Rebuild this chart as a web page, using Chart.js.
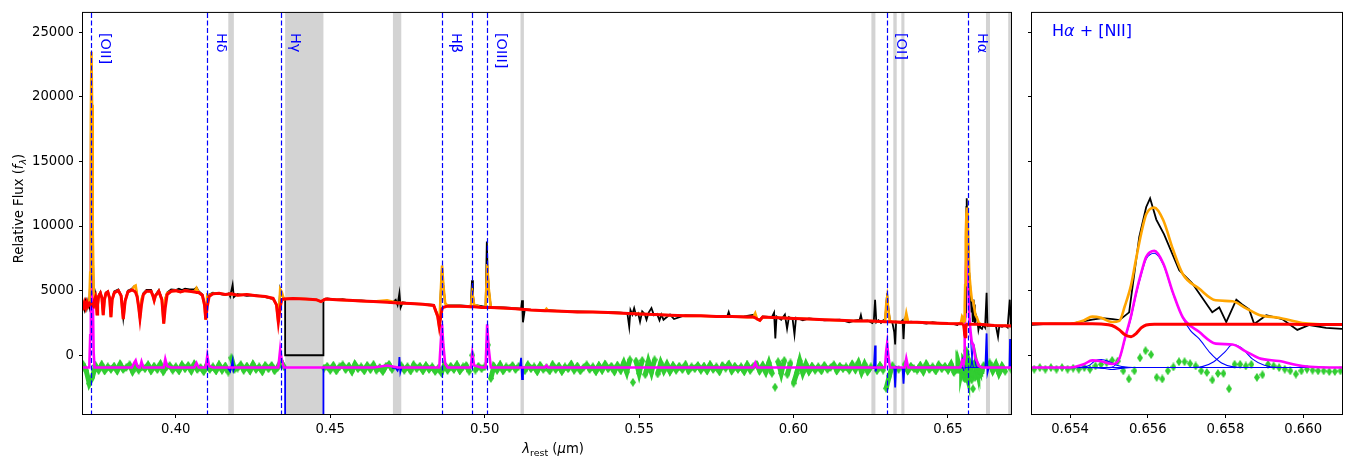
<!DOCTYPE html>
<html>
<head>
<meta charset="utf-8">
<script src="https://cdn.jsdelivr.net/npm/chart.js@4.4.0/dist/chart.umd.min.js"></script>
<style>
  html, body { margin: 0; padding: 0; background: #fff; }
  #wrap { position: relative; width: 1353px; height: 460px; }
  #mainBox { position: absolute; left: 0; top: 0; width: 1020px; height: 460px; }
  #zoomBox { position: absolute; left: 1020px; top: 0; width: 333px; height: 460px; }
</style>
</head>
<body>
<div id="wrap">
  <div id="mainBox"><canvas id="mainChart"></canvas></div>
  <div id="zoomBox"><canvas id="zoomChart"></canvas></div>
</div>
<script>
// ---- spectrum data (rest-frame wavelength in micron, flux in relative f_lambda) ----

// observed spectrum (black)
const obsWave = [
  0.3695, 0.3700, 0.3704, 0.3708, 0.3712, 0.3716, 0.3720, 0.3723, 0.3725, 0.3727,
  0.3729, 0.3731, 0.3734, 0.3737, 0.3740, 0.3743, 0.3745, 0.3747, 0.3750, 0.3756,
  0.3761, 0.3765, 0.3769, 0.3774, 0.3780, 0.3786, 0.3790, 0.3794, 0.3801, 0.3814,
  0.3823, 0.3830, 0.3836, 0.3845, 0.3858, 0.3866, 0.3870, 0.3875, 0.3880, 0.3884,
  0.3889, 0.3895, 0.3905, 0.3920, 0.3926, 0.3930, 0.3934, 0.3945, 0.3955, 0.3961,
  0.3966, 0.3972, 0.3985, 0.4000, 0.4010, 0.4020, 0.4030, 0.4045, 0.4060, 0.4067,
  0.4074, 0.4086, 0.4093, 0.4097, 0.4102, 0.4108, 0.4120, 0.4140, 0.4160, 0.4172,
  0.4176, 0.4184, 0.4188, 0.4200, 0.4230, 0.4260, 0.4290, 0.4315, 0.4326, 0.4332,
  0.4338, 0.4343, 0.4349, 0.4354, 0.4354, 0.4478, 0.4478, 0.4490, 0.4520, 0.4540,
  0.4560, 0.4600, 0.4640, 0.4680, 0.4700, 0.4712, 0.4718, 0.4724, 0.4728, 0.4735,
  0.4760, 0.4800, 0.4835, 0.4848, 0.4853, 0.4858, 0.4862, 0.4866, 0.4872, 0.4880,
  0.4920, 0.4955, 0.4959, 0.4962, 0.4966, 0.4990, 0.5003, 0.5007, 0.5009, 0.5013,
  0.5020, 0.5060, 0.5100, 0.5118, 0.5121, 0.5124, 0.5130, 0.5150, 0.5200, 0.5250,
  0.5300, 0.5350, 0.5400, 0.5440, 0.5462, 0.5468, 0.5472, 0.5478, 0.5484, 0.5490,
  0.5497, 0.5503, 0.5510, 0.5518, 0.5524, 0.5531, 0.5540, 0.5548, 0.5558, 0.5566,
  0.5572, 0.5579, 0.5600, 0.5613, 0.5650, 0.5700, 0.5750, 0.5785, 0.5790, 0.5795,
  0.5840, 0.5876, 0.5882, 0.5891, 0.5900, 0.5930, 0.5937, 0.5941, 0.5945, 0.5960,
  0.5972, 0.5979, 0.5985, 0.5997, 0.6003, 0.6008, 0.6030, 0.6050, 0.6100, 0.6150,
  0.6180, 0.6200, 0.6214, 0.6218, 0.6222, 0.6240, 0.6255, 0.6260, 0.6264, 0.6268,
  0.6275, 0.6283, 0.6290, 0.6297, 0.6300, 0.6303, 0.6307, 0.6312, 0.6320, 0.6326,
  0.6329, 0.6332, 0.6345, 0.6353, 0.6356, 0.6359, 0.6365, 0.6371, 0.6380, 0.6400,
  0.6430, 0.6450, 0.6480, 0.6500, 0.6520, 0.6530, 0.6535, 0.6540, 0.65457, 0.65483,
  0.6551, 0.65527, 0.65552, 0.65578, 0.65596, 0.65606, 0.65622, 0.65642, 0.65681, 0.65714,
  0.65766, 0.65784, 0.65802, 0.65828, 0.65843, 0.65861, 0.65874, 0.65905, 0.65946, 0.65985,
  0.66016, 0.66059, 0.6610, 0.6615, 0.6620, 0.6625, 0.6628, 0.6635, 0.6645, 0.6655,
  0.6662, 0.6666, 0.6675, 0.6685, 0.6693, 0.6700, 0.6704, 0.6715
];
const obsFlux = [
  3600, 4000, 3550, 4150, 3650, 4200, 3800, 6000, 17000, 22500,
  18500, 9000, 4800, 4200, 4650, 3850, 3300, 4000, 4650, 4900,
  4450, 3200, 4350, 4850, 4950, 4450, 3050, 4350, 4950, 5100,
  4650, 2900, 4250, 5000, 5150, 5350, 5300, 4650, 3750, 2950,
  4250, 4800, 5050, 5050, 4650, 4350, 4650, 5050, 4350, 2600,
  4400, 4850, 5100, 5050, 5150, 5050, 5150, 5100, 5100, 5250,
  4950, 4700, 3950, 2900, 4650, 4700, 4850, 4750, 4650, 4800,
  4550, 5450, 4500, 4750, 4600, 4650, 4500, 4350, 3950, 2700,
  5100, 4650, 4400, 4350, 0, 0, 4300, 4400, 4300, 4350,
  4250, 4250, 4150, 4150, 4050, 4300, 3900, 4800, 3700, 4100,
  4000, 3950, 3900, 3100, 2300, 5000, 6900, 5500, 4000, 3850,
  3850, 3800, 5800, 4700, 3900, 3800, 3750, 8800, 7000, 5200,
  3750, 3700, 3650, 3600, 4250, 2550, 3550, 3500, 3500, 3400,
  3400, 3350, 3350, 3300, 3250, 2200, 3500, 3150, 3650, 3100,
  3250, 2600, 3400, 3200, 2750, 3300, 3650, 3100, 3200, 2700,
  3150, 2750, 3150, 2800, 3100, 3050, 3050, 3000, 3350, 2950,
  3000, 3150, 2800, 2750, 3000, 2950, 3300, 1300, 3000, 2750,
  3150, 2050, 2950, 2800, 1600, 2900, 2700, 2850, 2700, 2750,
  2550, 2700, 2750, 3100, 2650, 2700, 2500, 2700, 4300, 2550,
  2700, 2500, 2700, 2800, 3900, 4800, 3600, 2700, 2500, 1800,
  830, 2600, 2500, 2700, 1250, 2650, 3100, 2550, 2600, 2550,
  2450, 2550, 2450, 2450, 2400, 2340, 2450, 2420, 2750, 2870,
  2800, 2720, 3320, 9140, 11480, 12150, 10500, 9360, 6570, 5590,
  3320, 3700, 2570, 4300, 3930, 3550, 2420, 3100, 2800, 1960,
  2340, 2110, 2040, 2350, 2150, 4830, 2250, 2300, 2250, 2300,
  1430, 2250, 2200, 2300, 2150, 4300, 2200, 2250
];

// best-fit stellar continuum (red) and emission-line model (magenta) on the fit grid
const fitWave = [
  0.3695, 0.3700, 0.3704, 0.3708, 0.3712, 0.3716, 0.3720, 0.3723, 0.3725, 0.3727,
  0.3729, 0.3731, 0.3734, 0.3737, 0.3740, 0.3743, 0.3745, 0.3747, 0.3750, 0.3756,
  0.3761, 0.3765, 0.3769, 0.3774, 0.3780, 0.3786, 0.3790, 0.3794, 0.3801, 0.3814,
  0.3823, 0.3830, 0.3836, 0.3845, 0.3858, 0.3866, 0.3870, 0.3875, 0.3880, 0.3884,
  0.3889, 0.3895, 0.3905, 0.3920, 0.3926, 0.3930, 0.3934, 0.3945, 0.3955, 0.3961,
  0.3966, 0.3972, 0.3985, 0.4000, 0.4015, 0.4030, 0.4045, 0.4060, 0.4067, 0.4074,
  0.4086, 0.4093, 0.4097, 0.4102, 0.4108, 0.4120, 0.4140, 0.4160, 0.4180, 0.4200,
  0.4230, 0.4260, 0.4290, 0.4315, 0.4326, 0.4332, 0.4338, 0.4343, 0.4350, 0.4380,
  0.4420, 0.4455, 0.4470, 0.4485, 0.4520, 0.4560, 0.4600, 0.4640, 0.4684, 0.4720,
  0.4760, 0.4800, 0.4835, 0.4848, 0.4853, 0.4858, 0.4862, 0.4866, 0.4872, 0.4880,
  0.4920, 0.4955, 0.4960, 0.4966, 0.4990, 0.5003, 0.5008, 0.5013, 0.5020, 0.5060,
  0.5100, 0.5150, 0.5195, 0.5200, 0.5205, 0.5250, 0.5300, 0.5350, 0.5400, 0.5450,
  0.5500, 0.5550, 0.5600, 0.5650, 0.5700, 0.5750, 0.5800, 0.5850, 0.5870, 0.5876,
  0.5882, 0.5891, 0.5900, 0.5950, 0.6000, 0.6050, 0.6100, 0.6150, 0.6200, 0.6250,
  0.6296, 0.6300, 0.6303, 0.6307, 0.6312, 0.6350, 0.6360, 0.6365, 0.6371, 0.6400,
  0.6450, 0.6500, 0.6530, 0.6540, 0.65435, 0.65457, 0.6548, 0.65508, 0.65527, 0.65541,
  0.65557, 0.6557, 0.65583, 0.65596, 0.65617, 0.6564, 0.65665, 0.6569, 0.65732, 0.65775,
  0.65818, 0.65852, 0.65887, 0.65938, 0.65998, 0.6610, 0.6650, 0.6715
];
const contFlux = [
  3750, 3650, 4050, 3700, 4100, 3800, 4000, 3900, 3950, 4000,
  3900, 3850, 3800, 4300, 4500, 3900, 3200, 3900, 4550, 4800,
  4400, 3100, 4300, 4800, 4900, 4400, 2950, 4300, 4850, 5000,
  4600, 2800, 4200, 4900, 5050, 4950, 4850, 4500, 3700, 2850,
  3900, 4700, 4950, 4950, 4600, 4250, 4600, 4950, 4300, 2450,
  3700, 4700, 4950, 5000, 4900, 5000, 4950, 4900, 4850, 4850,
  4650, 3900, 2750, 3800, 4550, 4750, 4800, 4700, 4750, 4650,
  4700, 4600, 4550, 4400, 3900, 2550, 3700, 4300, 4350, 4400,
  4350, 4300, 4150, 4350, 4300, 4250, 4200, 4150, 4100, 4050,
  4000, 3950, 3850, 3000, 2200, 3000, 3600, 3700, 3750, 3800,
  3800, 3750, 3750, 3750, 3700, 3700, 3700, 3700, 3700, 3650,
  3600, 3500, 3450, 3450, 3450, 3400, 3350, 3350, 3300, 3250,
  3200, 3150, 3100, 3050, 3050, 3000, 3000, 2950, 2950, 2900,
  2800, 2700, 2950, 2900, 2850, 2800, 2750, 2700, 2650, 2650,
  2600, 2600, 2600, 2600, 2600, 2550, 2550, 2550, 2550, 2550,
  2500, 2450, 2440, 2440, 2440, 2440, 2420, 2300, 1960, 1580,
  1430, 1680, 2110, 2340, 2400, 2400, 2400, 2400, 2400, 2400,
  2400, 2400, 2400, 2400, 2380, 2370, 2300, 2250
];
const lineFlux = [
  0, 0, 0, 0, 0, 0, 0, 2500, 14000, 19500,
  15500, 6000, 1200, 0, 0, 0, 0, 0, 0, 0,
  0, 0, 0, 0, 0, 0, 0, 0, 0, 0,
  0, 0, 0, 0, 0, 400, 550, 100, 0, 0,
  450, 0, 0, 0, 0, 0, 0, 0, 0, 0,
  650, 100, 0, 0, 0, 0, 0, 0, 350, 0,
  0, 0, 0, 900, 100, 0, 0, 0, 0, 0,
  0, 0, 0, 0, 0, 0, 1400, 600, 0, 0,
  0, 0, 0, 0, 0, 0, 0, 0, 150, 0,
  0, 0, 0, 0, 0, 2000, 3350, 1800, 300, 0,
  0, 0, 1100, 150, 0, 0, 3350, 1500, 0, 0,
  0, 0, 0, 150, 0, 0, 0, 0, 0, 0,
  0, 0, 0, 0, 0, 0, 0, 0, 0, 350,
  0, 0, 0, 0, 0, 0, 0, 0, 0, 0,
  0, 1300, 1850, 900, 0, 0, 0, 700, 0, 0,
  0, 0, 0, 0, 250, 550, 480, 270, 700, 2230,
  4000, 5780, 7300, 8570, 9030, 8050, 5780, 3890, 2760, 1850,
  1780, 1250, 720, 500, 120, 0, 0, 0
];

// individual Gaussian components around H-alpha (blue), already on the offset baseline
const n6548Wave = [0.6530, 0.6542, 0.6545, 0.65465, 0.6548, 0.6550, 0.6552, 0.6555, 0.6558, 0.6610];
const n6548Flux = [-950, -950, -780, -420, -330, -480, -780, -930, -950, -950];
const haAbsWave = [0.6530, 0.6546, 0.6549, 0.65508, 0.6553, 0.6556, 0.6610];
const haAbsFlux = [-950, -960, -1030, -1100, -1020, -950, -950];
const haWave = [0.6530, 0.6550, 0.65527, 0.65541, 0.65557, 0.6557, 0.65583, 0.65596, 0.65617, 0.6564,
                0.65665, 0.6569, 0.6571, 0.65732, 0.6576, 0.6579, 0.6582, 0.6585, 0.6610];
const haFlux = [-950, -950, -300, 1200, 2900, 4700, 6200, 7450, 7900, 7000,
                4750, 2900, 1900, 1280, 200, -600, -900, -950, -950];
const n6583Wave = [0.6530, 0.6571, 0.6574, 0.6577, 0.6580, 0.65818, 0.6584, 0.6587, 0.6590, 0.6594, 0.6610];
const n6583Flux = [-950, -950, -880, -500, 300, 830, 600, -300, -780, -950, -950];

// residuals inside masked windows (blue), null breaks the line between windows
const maskResWave = [
  0.4168, 0.4172, 0.4176, 0.4180, 0.4184, 0.4187, 0.4190, 0.4190,
  0.4350, 0.4354, 0.4354, 0.4478, 0.4478, 0.4482, 0.4482,
  0.4700, 0.4712, 0.4718, 0.4722, 0.4724, 0.4727, 0.4731, 0.4731,
  0.5114, 0.5118, 0.5121, 0.5124, 0.5128, 0.5128,
  0.6252, 0.6260, 0.6264, 0.6266, 0.6268, 0.6268,
  0.6321, 0.6326, 0.6329, 0.6332, 0.6335, 0.6335,
  0.6348, 0.6353, 0.6356, 0.6359, 0.6359,
  0.6621, 0.6625, 0.6628, 0.6632, 0.6636, 0.6636,
  0.6694, 0.6699, 0.6701, 0.6704, 0.6708
];
const maskResFlux = [
  -950, -1100, -1250, -900, -400, -1150, -950, null,
  -950, -950, -5400, -5400, -950, -950, null,
  -960, -1000, -1200, -950, -150, -1300, -950, null,
  -950, -200, -1850, -950, -950, null,
  -950, -1000, 750, -1250, -950, null,
  -950, -1000, -2500, -900, -950, null,
  -950, -1000, -2200, -950, null,
  -950, 1690, -1340, -950, -950, null,
  -950, -950, 1250, -950, -950
];

// fit residuals (green), offset to the same baseline; null = masked pixel
const residStart = 0.3700, residStep = 0.001;
const resid = [
  -700, -1200, -2200, -1700, -800, -1150, -750, -1200, -900, -1100,
  -850, -1200, -700, -1100, -950, -750, -1250, -800, -1150, -900,
  -1050, -750, -1200, -850, -1100, -700, -1250, -900, -800, -1150,
  -900, -1200, -750, -1050, -800, -1200, -700, -1100, -950, -1250,
  -800, -1100, -900, -1200, -750, -1150, -850, -1300, -200, -1100,
  -1000, -750, -1150, -850, -1200, -700, -1100, -900, -1250, -800,
  -1050, -800, -1200, -950, -450, -900, null, null, null, null,
  null, null, null, null, null, null, null, null, -1000, -850,
  -1150, -800, -1200, -900, -750, -1100, -850, -1250, -700, -1050,
  -900, -1200, -800, -1100, -750, -1150, -950, -1250, -850, -700,
  -1100, null, null, -800, -1150, -900, -1200, -750, -1050, -850,
  -1200, -800, -1100, -900, -1250, -1000, -1350, -750, -1150, -850,
  -1100, -750, -1200, -900, -800, -1250, 0, -1150, -850, -1050,
  -900, 800, -1800, -850, -1150, -750, -1200, -900, -1050, -800,
  -1100, -850, null, -1200, -750, -1050, -900, -1250, -800, -1100,
  -950, -1200, -750, -1100, -850, -1250, -900, -1050, -700, -1150,
  -850, -1200, -950, -750, -1100, -900, -1250, -800, -1150, -700,
  -1050, -850, -1250, -800, -1150, -600, -1300, -350, -2100, -450,
  -1400, -400, -1500, -500, -1300, -350, -1450, -600, -1200, -700,
  -1250, -800, -1150, -850, -1100, -750, -1200, -900, -1050, -800,
  -1150, -850, -1200, -750, -1100, -900, -1250, -800, -1000, -700,
  -1200, -850, -1100, -900, -1250, -750, -1150, -850, -700, -1200,
  -800, -1300, -600, -1400, -2470, -500, -1400, -400, -1500, -600,
  -2170, -1400, -450, -1350, -700, -1250, -850, -1150, -900, -1200,
  -800, -1100, -950, -750, -1200, -850, -1050, -900, -1150, -700,
  -1100, -600, -1300, -700, -1250, -900, null, -1200, -800, -1150,
  -2570, -1600, -800, null, -1100, null, -700, -1200, -850, -1050,
  -1150, -800, -1250, -700, -1100, -900, -1200, -750, -1050, -850,
  -1150, -700, -1300
];
// finer sampling across H-alpha + [NII]
const haResidStart = 0.653077, haResidStep = 0.0001433;
const haResid = [
  -1083, -958, -1083, -958, -1083, -958, -1083, -1008, -1083, -958,
  -1083, -832, -706, -580, -403, -454, -1210, -1840, -1210, -202,
  353, 50, -1714, -1840, -1210, -907, -504, -504, -655, -832,
  -1210, -1336, -1915, -1411, -1411, -2596, -700, -706, -832, -706,
  -1714, -1512, -706, -832, -958, -1083, -1210, -1461, -1210, -1083,
  -1159, -1210, -1210, -1260, -1260, -1210
];
const redResidStart = 0.6615, redResidStep = 0.001;
const redResid = [-800, null, -600, -1200, -700, -1400, -850, -1250, null, -1100];

// masked wavelength windows (grey) and marked emission lines
const maskLo = [0.4170, 0.4354, 0.4703, 0.5116, 0.6252, 0.6323, 0.6349, 0.6623, 0.6695];
const maskHi = [0.4188, 0.4478, 0.4730, 0.5127, 0.6265, 0.6334, 0.6359, 0.6636, 0.6704];
const lineWave = [0.3727, 0.4102, 0.4341, 0.4862, 0.4960, 0.5008, 0.6302, 0.6564];
const lineName = ['[OII]', 'Hδ', 'Hγ', 'Hβ', '', '[OIII]', '[OI]', 'Hα'];

// axes
const mainXRange = [0.36996, 0.6704];
const zoomXRange = [0.65302, 0.66100];
const fluxRange = [-4550, 26500];
const mainXTicks = [0.40, 0.45, 0.50, 0.55, 0.60, 0.65];
const zoomXTicks = [0.654, 0.656, 0.658, 0.660];
const fluxTicks = [0, 5000, 10000, 15000, 20000, 25000];

const OFFSET = -950;   // baseline for the line model and residuals
const FONT = 'DejaVu Sans';

Chart.defaults.font.family = FONT;

function pts(xs, ys) {
  return xs.map((x, i) => ({ x: x, y: ys[i] }));
}
function gridPts(start, step, ys) {
  return ys.map((y, i) => ({ x: start + i * step, y: y }));
}

// thin matplotlib-like diamond marker
function diamond(w, h, color) {
  const c = document.createElement('canvas');
  c.width = w; c.height = h;
  const g = c.getContext('2d');
  g.fillStyle = color;
  g.beginPath();
  g.moveTo(w / 2, 0); g.lineTo(w, h / 2); g.lineTo(w / 2, h); g.lineTo(0, h / 2);
  g.closePath(); g.fill();
  return c;
}
const greenDiamond = diamond(6, 9, '#32cd32');

const modelFlux = contFlux.map((c, i) => c + lineFlux[i]);
const lineShown = lineFlux.map(v => v + OFFSET);

// outlying residuals stay as lone markers, the rest merge into a band
const bandSegment = s => Math.abs(s.p1.parsed.y - s.p0.parsed.y) > 1000 ? 'rgba(0,0,0,0)' : undefined;

// zoom = true for the H-alpha panel: smooth model curves, residuals as markers only
function buildDatasets(zoom) {
  const curve = zoom ? 'monotone' : 'default';
  const line = (data, color, width, order, cubic) => ({
    data: data, showLine: true, borderColor: color, borderWidth: width,
    pointRadius: 0, order: order, clip: 0, tension: 0,
    cubicInterpolationMode: cubic ? curve : 'default'
  });
  const resAll = gridPts(residStart, residStep, resid)
    .concat(gridPts(haResidStart, haResidStep, haResid))
    .concat(gridPts(redResidStart, redResidStep, redResid));
  return [
    line(pts(fitWave, contFlux), '#ff0000', 3, 1, true),
    line(pts(fitWave, modelFlux), '#ffa500', 2.6, 2, true),
    line(pts(obsWave, obsFlux), '#000000', 1.8, 3, false),
    line(pts(fitWave, lineShown), '#ff00ff', 2.6, 4, true),
    line(pts(n6548Wave, n6548Flux), '#0000ff', 1.1, 5, true),
    line(pts(haAbsWave, haAbsFlux), '#0000ff', 1.1, 5, true),
    line(pts(haWave, haFlux), '#0000ff', 1.1, 5, true),
    line(pts(n6583Wave, n6583Flux), '#0000ff', 1.1, 5, true),
    line(pts(maskResWave, maskResFlux), '#0000ff', 1.8, 5, false),
    {
      data: resAll, showLine: !zoom, borderColor: '#32cd32', borderWidth: 5,
      segment: { borderColor: bandSegment },
      pointStyle: greenDiamond, pointRadius: 4, order: 6, clip: 0, tension: 0
    }
  ];
}

function tickFont() {
  return { family: FONT, size: 13.2 };
}
function xAxis(range, ticks, digits, height) {
  return {
    type: 'linear', min: range[0], max: range[1],
    grid: { display: true, drawOnChartArea: false, drawTicks: true, tickLength: 4, color: '#000', lineWidth: 1 },
    border: { display: false },
    ticks: { color: '#000', font: tickFont(), padding: 4, maxRotation: 0, autoSkip: false,
             callback: v => v.toFixed(digits) },
    afterBuildTicks: axis => { axis.ticks = ticks.map(v => ({ value: v })); },
    afterFit: axis => { axis.height = height; }
  };
}
function yAxis(showLabels, width) {
  return {
    type: 'linear', min: fluxRange[0], max: fluxRange[1],
    grid: { display: true, drawOnChartArea: false, drawTicks: true, tickLength: 4, color: '#000', lineWidth: 1 },
    border: { display: false },
    ticks: { color: '#000', font: tickFont(), padding: 5,
             callback: v => showLabels ? String(v) : '' },
    afterBuildTicks: axis => { axis.ticks = fluxTicks.map(v => ({ value: v })); },
    afterFit: axis => { axis.width = width; }
  };
}

// draw a run of text pieces (normal / italic / subscript) starting at x
function drawRuns(ctx, runs, x, y) {
  let cx = x;
  runs.forEach(r => {
    ctx.font = r.font;
    ctx.fillText(r.t, cx, y + (r.dy || 0));
    cx += ctx.measureText(r.t).width;
  });
}
function runsWidth(ctx, runs) {
  let w = 0;
  runs.forEach(r => { ctx.font = r.font; w += ctx.measureText(r.t).width; });
  return w;
}

const framePlugin = {
  id: 'frame',
  afterDraw(chart) {
    const { ctx, chartArea: a } = chart;
    ctx.save();
    ctx.strokeStyle = '#000';
    ctx.lineWidth = 1;
    ctx.strokeRect(a.left - 0.5, a.top - 0.5, a.right - a.left + 1, a.bottom - a.top + 1);
    ctx.restore();
  }
};

// grey masked windows under the data, dashed line markers with labels on top
const markerPlugin = {
  id: 'markers',
  beforeDatasetsDraw(chart) {
    const { ctx, chartArea: a, scales: { x } } = chart;
    ctx.save();
    ctx.beginPath();
    ctx.rect(a.left, a.top, a.right - a.left, a.bottom - a.top);
    ctx.clip();
    ctx.fillStyle = '#d3d3d3';
    maskLo.forEach((lo, i) => {
      const x0 = x.getPixelForValue(lo);
      const x1 = x.getPixelForValue(maskHi[i]);
      ctx.fillRect(x0, a.top, x1 - x0, a.bottom - a.top);
    });
    ctx.restore();
  },
  afterDatasetsDraw(chart) {
    const { ctx, chartArea: a, scales: { x } } = chart;
    ctx.save();
    ctx.strokeStyle = '#0000ff';
    ctx.fillStyle = '#0000ff';
    ctx.lineWidth = 1.2;
    ctx.setLineDash([5, 2.5]);
    lineWave.forEach((w, i) => {
      const px = Math.round(x.getPixelForValue(w)) + 0.5;
      ctx.beginPath();
      ctx.moveTo(px, a.top);
      ctx.lineTo(px, a.bottom);
      ctx.stroke();
      if (lineName[i]) {
        ctx.save();
        ctx.translate(px + 9, a.top + 20);
        ctx.rotate(Math.PI / 2);
        ctx.font = '14.5px "' + FONT + '"';
        ctx.textBaseline = 'alphabetic';
        ctx.textAlign = 'left';
        ctx.fillText(lineName[i], 0, 0);
        ctx.restore();
      }
    });
    ctx.restore();
  }
};

const mainTitles = {
  id: 'mainTitles',
  afterDraw(chart) {
    const ctx = chart.ctx;
    ctx.save();
    ctx.fillStyle = '#000';
    ctx.textBaseline = 'alphabetic';
    ctx.textAlign = 'left';
    const f = '13.2px "' + FONT + '"';
    const fi = 'italic 13.2px "' + FONT + '"';
    const fs = '9.5px "' + FONT + '"';
    const xRuns = [
      { t: 'λ', font: fi }, { t: 'rest', font: fs, dy: 3 },
      { t: ' (', font: f }, { t: 'μ', font: fi }, { t: 'm)', font: f }
    ];
    const xw = runsWidth(ctx, xRuns);
    drawRuns(ctx, xRuns, 553 - xw / 2, 453);

    const yRuns = [
      { t: 'Relative Flux (', font: f }, { t: 'f', font: fi },
      { t: 'λ', font: 'italic 9.5px "' + FONT + '"', dy: 3 }, { t: ')', font: f }
    ];
    const yw = runsWidth(ctx, yRuns);
    ctx.translate(23, 208.5);
    ctx.rotate(-Math.PI / 2);
    drawRuns(ctx, yRuns, -yw / 2, 0);
    ctx.restore();
  }
};

const zoomTitle = {
  id: 'zoomTitle',
  afterDraw(chart) {
    const ctx = chart.ctx;
    ctx.save();
    ctx.fillStyle = '#0000ff';
    ctx.textBaseline = 'alphabetic';
    ctx.textAlign = 'left';
    drawRuns(ctx, [
      { t: 'H', font: '16px "' + FONT + '"' },
      { t: 'α', font: 'italic 16px "' + FONT + '"' },
      { t: ' + [NII]', font: '16px "' + FONT + '"' }
    ], 32, 36);
    ctx.restore();
  }
};

const common = {
  responsive: true,
  maintainAspectRatio: false,
  animation: false,
  devicePixelRatio: 1,
  events: [],
  plugins: { legend: { display: false }, tooltip: { enabled: false } }
};

new Chart(document.getElementById('mainChart'), {
  type: 'scatter',
  data: { datasets: buildDatasets(false) },
  options: Object.assign({}, common, {
    layout: { padding: { left: 0, top: 3, right: 7, bottom: 0 } },
    scales: {
      x: xAxis(mainXRange, mainXTicks, 2, 46),
      y: yAxis(true, 83)
    }
  }),
  plugins: [markerPlugin, framePlugin, mainTitles]
});

new Chart(document.getElementById('zoomChart'), {
  type: 'scatter',
  data: { datasets: buildDatasets(true) },
  options: Object.assign({}, common, {
    layout: { padding: { left: 0, top: 3, right: 11, bottom: 0 } },
    scales: {
      x: xAxis(zoomXRange, zoomXTicks, 3, 46),
      y: yAxis(false, 12)
    }
  }),
  plugins: [framePlugin, zoomTitle]
});
</script>
</body>
</html>
